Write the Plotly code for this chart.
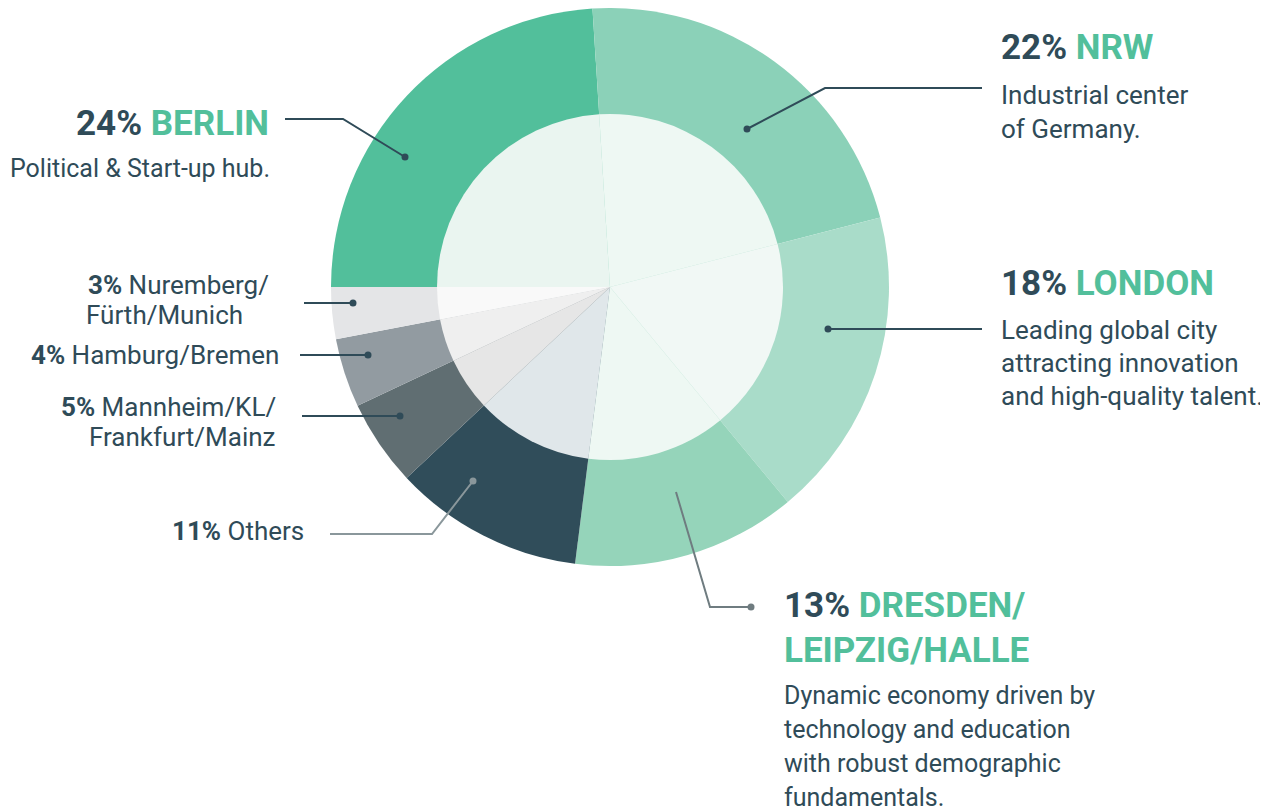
import plotly.graph_objects as go

# ---------------- data ----------------
labels = ["Berlin", "NRW", "London", "Dresden/Leipzig/Halle", "Others",
          "Mannheim/KL/Frankfurt/Mainz", "Hamburg/Bremen", "Nuremberg/Fürth/Munich"]
values = [24, 22, 18, 13, 11, 5, 4, 3]
outer_colors = ["#52BF9B", "#8BD1B8", "#A9DCC9", "#95D4BA", "#304D5A", "#606E72", "#929BA1", "#E4E5E7"]
inner_colors = ["#EAF5F0", "#EEF8F3", "#F1F8F5", "#EEF8F3", "#E0E7EA", "#E6E6E6", "#EFEFEF", "#F9F9F9"]

# page is offset by the default 8px body margin
OFF = 8
W, H = 1260, 803
DARK = "#2F4B58"
GREEN = "#52BF9B"
FONT = "Roboto, sans-serif"

CX, CY = 610, 287
R_OUT, R_IN = 279, 173


def px(x):
    return (x - OFF) / W


def py(y):
    return 1 - (y - OFF) / H


def dom(r):
    y0 = max(0.0, py(CY + r))
    y1 = min(1.0, py(CY - r))
    return dict(x=[px(CX - r), px(CX + r)], y=[y0, y1])


fig = go.Figure()
fig.add_trace(go.Pie(labels=labels, values=values, sort=False, direction="clockwise",
                     rotation=270, textinfo="none", hoverinfo="skip",
                     marker=dict(colors=outer_colors, line=dict(width=0)),
                     domain=dom(R_OUT), showlegend=False))
fig.add_trace(go.Pie(labels=labels, values=values, sort=False, direction="clockwise",
                     rotation=270, textinfo="none", hoverinfo="skip",
                     marker=dict(colors=inner_colors, line=dict(width=0)),
                     domain=dom(R_IN), showlegend=False))

ann = []


def text(x, y, t, size, anchor="left", color=DARK):
    ann.append(dict(x=px(x), y=py(y), xref="paper", yref="paper", text=t,
                    showarrow=False, xanchor=anchor, yanchor="middle",
                    font=dict(family=FONT, size=size, color=color)))


def head(pct, name):
    return (f"<b><span style='color:{DARK}'>{pct}</span> "
            f"<span style='color:{GREEN}'>{name}</span></b>")


def small(pct, name):
    return f"<b>{pct}</b> {name}"


HS, BS, SS = 35, 26, 26

# Berlin
text(271, 123, head("24%", "BERLIN"), HS, "right")
text(272, 168, "Political & Start-up hub.", 25, "right")
# NRW
text(999, 48, head("22%", "NRW"), HS)
text(999, 95, "Industrial center", BS)
text(999, 129, "of Germany.", BS)
# London
text(999, 283, head("18%", "LONDON"), HS)
text(999, 330, "Leading global city", BS)
text(999, 363, "attracting innovation", BS)
text(999, 396, "and high-quality talent.", BS)
# Dresden
text(782, 605, head("13%", "DRESDEN/"), HS)
text(782, 650, f"<b><span style='color:{GREEN}'>LEIPZIG/HALLE</span></b>", HS)
text(782, 695, "Dynamic economy driven by", 25)
text(782, 729, "technology and education", 25)
text(782, 763, "with robust demographic", 25)
text(782, 797, "fundamentals.", 25)
# small labels
text(271, 285, small("3%", "Nuremberg/"), SS, "right")
text(245, 315, "Fürth/Munich", SS, "right")
text(281, 355, small("4%", "Hamburg/Bremen"), SS, "right")
text(278, 407, small("5%", "Mannheim/KL/"), SS, "right")
text(278, 437, "Frankfurt/Mainz", SS, "right")
text(306, 531, small("11%", "Others"), SS, "right")
# cropped neighbour content at right edge
text(1268, 513, "i", 22, "right")

shapes = []


def path(pts, color, width=2):
    d = "M " + " L ".join(f"{px(x)},{py(y)}" for x, y in pts)
    shapes.append(dict(type="path", path=d, xref="paper", yref="paper",
                       line=dict(color=color, width=width)))


def dot(x, y, color, r=3.5):
    shapes.append(dict(type="circle", xref="paper", yref="paper",
                       x0=px(x - r), x1=px(x + r), y0=py(y + r), y1=py(y - r),
                       fillcolor=color, line=dict(width=0)))


LC = "#2F4B58"
GC = "#6F7C80"
path([(285, 119), (343, 119), (405, 157)], LC)
dot(405, 157, LC)
path([(982, 88), (825, 88), (747, 129)], LC)
dot(747, 129, LC)
path([(982, 329), (828, 329)], LC)
dot(828, 329, LC)
path([(751, 607), (710, 607), (676, 492)], GC)
dot(751, 607, GC)
path([(330, 534), (432, 534), (473, 481)], "#8A979B")
dot(473, 481, "#8A979B")
path([(304, 303), (353, 303)], LC)
dot(353, 303, LC)
path([(300, 355), (368, 355)], LC)
dot(368, 355, LC)
path([(302, 416), (400, 416)], LC)
dot(400, 416, LC)

edge_marks = [(583, "#304D5A"), (635, "#6F8088"), (685, "#8E9DA3"), (736, "#B3BFC4"), (786, "#D3DBDE")]
for y, c in edge_marks:
    shapes.append(dict(type="rect", xref="paper", yref="paper",
                       x0=px(1265), x1=px(1268), y0=py(y + 5), y1=py(y - 5),
                       fillcolor=c, line=dict(width=0)))

fig.update_layout(width=W, height=H, margin=dict(l=0, r=0, t=0, b=0),
                  paper_bgcolor="white", plot_bgcolor="white",
                  annotations=ann, shapes=shapes, showlegend=False)
fig.write_html("out.html")
